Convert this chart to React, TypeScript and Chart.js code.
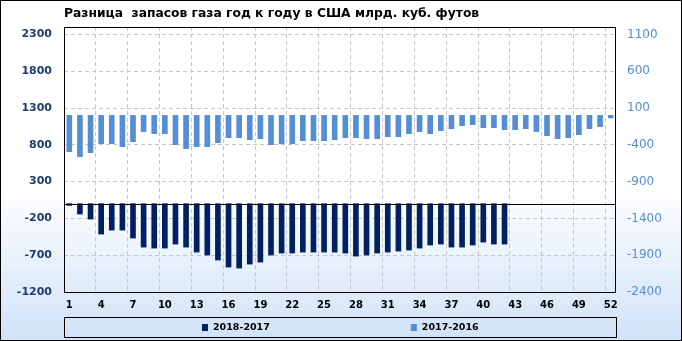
import { useEffect, useRef } from 'react';
import { Chart, registerables } from 'chart.js';

Chart.register(...registerables);

const weeks = [
  '1', '2', '3', '4', '5', '6', '7', '8', '9', '10',
  '11', '12', '13', '14', '15', '16', '17', '18', '19', '20',
  '21', '22', '23', '24', '25', '26', '27', '28', '29', '30',
  '31', '32', '33', '34', '35', '36', '37', '38', '39', '40',
  '41', '42', '43', '44', '45', '46', '47', '48', '49', '50',
  '51', '52',
];

// 2018-2017 (left axis)
const diff2018 = [
  -23, -141, -209, -413, -359, -359, -467, -590, -603, -603,
  -549, -590, -658, -698, -766, -861, -875, -821, -793, -698,
  -671, -671, -658, -658, -658, -658, -671, -712, -698, -671,
  -658, -644, -630, -603, -562, -549, -590, -590, -562, -522,
  -549, -549, null, null, null, null, null, null, null, null,
  null, null,
];

// 2017-2016 (right axis)
const diff2017 = [
  -493, -561, -507, -385, -385, -425, -357, -221, -249, -249,
  -398, -452, -425, -425, -371, -303, -303, -330, -317, -398,
  -385, -385, -344, -344, -344, -330, -303, -303, -317, -317,
  -290, -290, -249, -221, -249, -208, -181, -140, -126, -167,
  -167, -194, -194, -181, -221, -276, -317, -303, -262, -181,
  -154, -35,
];

const leftTicks = [-1200, -700, -200, 300, 800, 1300, 1800, 2300];
const rightTicks = [-2400, -1900, -1400, -900, -400, 100, 600, 1100];

const TITLE = 'Разница  запасов газа год к году в США млрд. куб. футов';
const LABEL_2018 = '2018-2017';
const LABEL_2017 = '2017-2016';

const NAVY = '#002060';
const BLUE = '#558ed5';
const AXIS_NAVY = '#1f3a6e';
const GRID = '#c6c6c6';
const FONT = "'DejaVu Sans', Verdana, sans-serif";

const framePlugin = {
  id: 'frame',
  beforeDraw(chart: any) {
    const { ctx, width, height } = chart;
    ctx.save();
    const g = ctx.createLinearGradient(0, 0, 0, height);
    g.addColorStop(0, '#ffffff');
    g.addColorStop(0.55, '#ffffff');
    g.addColorStop(1, '#d0e2f8');
    ctx.fillStyle = g;
    ctx.fillRect(0, 0, width, height);
    ctx.restore();
  },
  afterDatasetsDraw(chart: any) {
    const { ctx, chartArea: a, scales } = chart;
    ctx.save();
    ctx.strokeStyle = '#000';
    ctx.lineWidth = 1;
    const y0 = Math.round(scales.y.getPixelForValue(0)) + 0.5;
    ctx.beginPath();
    ctx.moveTo(a.left, y0);
    ctx.lineTo(a.right, y0);
    ctx.stroke();
    const l = Math.round(a.left) + 0.5;
    const t = Math.round(a.top) + 0.5;
    const r = Math.round(a.right) - 0.5;
    const b = Math.round(a.bottom) + 0.5;
    ctx.strokeRect(l, t, r - l, b - t);
    ctx.restore();
  },
  afterDraw(chart: any) {
    const { ctx, chartArea: a, width, height } = chart;
    ctx.save();
    ctx.strokeStyle = '#000';
    ctx.lineWidth = 1;
    ctx.strokeRect(0.5, 0.5, width - 1, height - 1);

    // legend box
    const bx = Math.round(a.left) + 0.5;
    const by = Math.round(a.bottom) + 25.5;
    const bw = Math.round(a.right - a.left);
    const bh = 20;
    ctx.strokeRect(bx, by, bw, bh);
    ctx.font = `bold 9.5px ${FONT}`;
    ctx.textBaseline = 'middle';
    ctx.textAlign = 'left';
    const items = chart.data.datasets.map((d: any) => ({
      label: d.label,
      color: d.backgroundColor,
      w: 6 + 5 + ctx.measureText(d.label).width,
    }));
    const gap = 141;
    const total = items.reduce((s: number, it: any) => s + it.w, 0) + gap * (items.length - 1);
    let x = Math.round((a.left + a.right) / 2 - total / 2);
    const cy = by + bh / 2;
    for (const it of items) {
      ctx.fillStyle = it.color;
      ctx.fillRect(x, Math.round(cy - 3.5), 6, 7);
      ctx.fillStyle = '#000';
      ctx.fillText(it.label, x + 11, cy);
      x += it.w + gap;
    }
    ctx.restore();
  },
};

export default function App() {
  const ref = useRef<HTMLCanvasElement | null>(null);

  useEffect(() => {
    if (!ref.current) return;
    const chart = new Chart(ref.current, {
      type: 'bar',
      data: {
        labels: weeks,
        datasets: [
          {
            label: LABEL_2018,
            data: diff2018 as any,
            backgroundColor: NAVY,
            yAxisID: 'y',
            grouped: false,
            barThickness: 5,
          } as any,
          {
            label: LABEL_2017,
            data: diff2017,
            backgroundColor: BLUE,
            yAxisID: 'y1',
            grouped: false,
            barThickness: 5,
          } as any,
        ],
      },
      options: {
        responsive: false,
        animation: false,
        layout: { padding: { left: 0, right: 0, top: 0, bottom: 29 } },
        plugins: {
          legend: { display: false },
          tooltip: { enabled: false },
          title: {
            display: true,
            text: TITLE,
            align: 'start',
            fullSize: false,
            color: '#000',
            font: { family: FONT, size: 12.3, weight: 'bold' },
            padding: { top: 6, bottom: 6.3 },
          },
        },
        scales: {
          x: {
            type: 'category',
            offset: true,
            grid: {
              offset: true,
              drawTicks: false,
              color: (c: any) => (c.index % 3 === 0 && c.index > 0 && c.index < weeks.length ? GRID : 'transparent'),
            },
            border: { display: false, dash: [4, 3] },
            ticks: {
              autoSkip: false,
              maxRotation: 0,
              minRotation: 0,
              padding: 7,
              color: '#000',
              font: { family: FONT, size: 10, weight: 'bold' },
              callback: (_v: any, i: number) => (i % 3 === 0 ? weeks[i] : ''),
            },
            afterFit: (s: any) => {
              s.height = 20;
            },
          },
          y: {
            position: 'left',
            min: -1200,
            max: 2400,
            afterBuildTicks: (s: any) => {
              s.ticks = leftTicks.map((v) => ({ value: v }));
            },
            grid: { color: GRID, drawTicks: false },
            border: { display: false, dash: [4, 3] },
            ticks: {
              padding: 12,
              color: AXIS_NAVY,
              font: { family: FONT, size: 11, weight: 'bold' },
              callback: (v: any) => String(v),
            },
            afterFit: (s: any) => {
              s.width = 64;
            },
          },
          y1: {
            position: 'right',
            min: -2400,
            max: 1200,
            afterBuildTicks: (s: any) => {
              s.ticks = rightTicks.map((v) => ({ value: v }));
            },
            grid: { drawOnChartArea: false, drawTicks: false },
            border: { display: false },
            ticks: {
              padding: 11,
              color: BLUE,
              font: { family: FONT, size: 12 },
              callback: (v: any) => String(v),
            },
            afterFit: (s: any) => {
              s.width = 66;
            },
          },
        },
      },
      plugins: [framePlugin],
    });
    return () => chart.destroy();
  }, []);

  return (
    <div style={{ position: 'fixed', left: 0, top: 0, width: 682, height: 341 }}>
      <canvas ref={ref} width={682} height={341} style={{ display: 'block' }} />
    </div>
  );
}
